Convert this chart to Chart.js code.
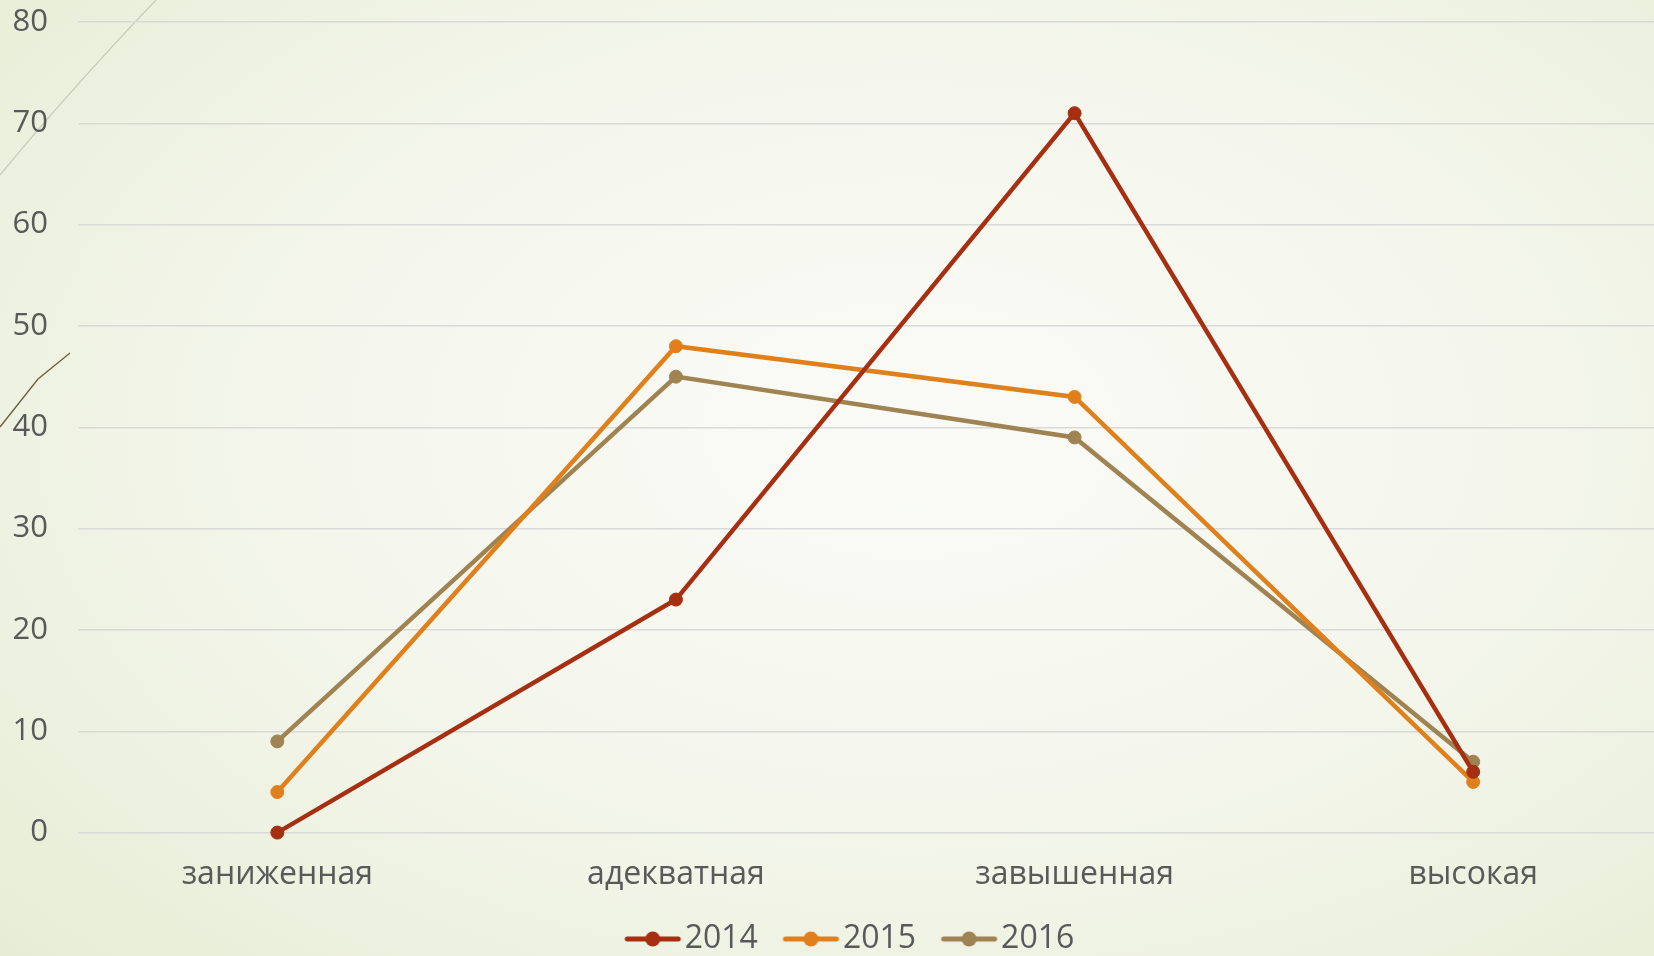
<!DOCTYPE html>
<html>
<head>
<meta charset="utf-8">
<script src="https://cdn.jsdelivr.net/npm/chart.js@4.4.0/dist/chart.umd.min.js"></script>
<style>
    html, body { margin: 0; padding: 0; overflow: hidden; }
    body {
        width: 1654px;
        height: 956px;
        background: radial-gradient(ellipse 75% 80% at 55% 45%, #fafbf6 0%, #f4f6ec 50%, #e7edd5 100%);
    }
    #wrap { width: 1680px; height: 956px; position: relative; }
</style>
</head>
<body>
<div id="wrap"><canvas id="chart"></canvas></div>
<script>
const categories = ['заниженная', 'адекватная', 'завышенная', 'высокая'];
const seriesNames = ['2014', '2015', '2016'];
const values2014 = [0, 23, 71, 6];
const values2015 = [4, 48, 43, 5];
const values2016 = [9, 45, 39, 7];
const yTicks = [0, 10, 20, 30, 40, 50, 60, 70, 80];

const seriesColors = ['#a62f12', '#e0801c', '#9f8352'];
const textColor = '#595959';
const fontFamily = "'Open Sans', 'DejaVu Sans', sans-serif";

// line+dot icon for the legend, drawn right of centre so it sits close to its text
const legendIcon = (color) => {
    const c = document.createElement('canvas');
    c.width = 92;
    c.height = 18;
    const g = c.getContext('2d');
    g.strokeStyle = color;
    g.lineWidth = 5;
    g.lineCap = 'round';
    g.beginPath();
    g.moveTo(36, 9);
    g.lineTo(87, 9);
    g.stroke();
    g.fillStyle = color;
    g.beginPath();
    g.arc(61.5, 9, 7.5, 0, Math.PI * 2);
    g.fill();
    return c;
};

// thin decorative strokes of the slide background
const slideDecor = {
    id: 'slideDecor',
    beforeDraw(chart) {
        const ctx = chart.ctx;
        ctx.save();
        ctx.lineWidth = 1.3;
        ctx.strokeStyle = '#c9ccbb';
        ctx.beginPath();
        ctx.moveTo(0, 175);
        ctx.quadraticCurveTo(70, 90, 156, 0);
        ctx.stroke();
        ctx.strokeStyle = '#6f6343';
        ctx.lineWidth = 1.4;
        ctx.beginPath();
        ctx.moveTo(0, 427);
        ctx.lineTo(38, 379);
        ctx.lineTo(70, 353);
        ctx.stroke();
        ctx.restore();
    }
};

const allValues = [values2014, values2015, values2016];

const chartData = {
    labels: categories,
    datasets: seriesNames.map((name, i) => ({
        label: name,
        data: allValues[i],
        borderColor: seriesColors[i],
        backgroundColor: seriesColors[i],
        pointBackgroundColor: seriesColors[i],
        pointBorderColor: seriesColors[i],
        borderWidth: 4.5,
        pointRadius: 6.5,
        pointBorderWidth: 1,
        tension: 0,
        clip: false
    }))
};

const chartOptions = {
    responsive: true,
    maintainAspectRatio: false,
    animation: false,
    layout: {
        padding: { top: 22, left: 0, right: 0, bottom: -9 }
    },
    scales: {
        x: {
            offset: true,
            grid: { display: false, drawTicks: false },
            border: { display: false },
            ticks: {
                color: textColor,
                font: { family: fontFamily, size: 32 },
                padding: 23
            }
        },
        y: {
            min: 0,
            max: 80,
            afterBuildTicks: (scale) => {
                scale.ticks = yTicks.map(v => ({ value: v }));
            },
            afterFit: (scale) => {
                scale.width = 78;
            },
            grid: {
                color: '#d9d9d9',
                lineWidth: 1.5,
                tickLength: 30,
                tickColor: 'rgba(0,0,0,0)'
            },
            border: { display: false },
            ticks: {
                color: textColor,
                font: { family: fontFamily, size: 31 },
                padding: 0
            }
        }
    },
    plugins: {
        legend: {
            position: 'bottom',
            labels: {
                color: textColor,
                font: { family: fontFamily, size: 32 },
                usePointStyle: true,
                pointStyleWidth: 63,
                padding: 6,
                generateLabels: (chart) => chart.data.datasets.map((ds, i) => ({
                    text: ds.label,
                    fontColor: textColor,
                    pointStyle: legendIcon(seriesColors[i]),
                    datasetIndex: i,
                    hidden: false,
                    lineWidth: 0
                }))
            }
        },
        tooltip: { enabled: false }
    }
};

new Chart(document.getElementById('chart'), {
    type: 'line',
    data: chartData,
    options: chartOptions,
    plugins: [slideDecor]
});
</script>
</body>
</html>
